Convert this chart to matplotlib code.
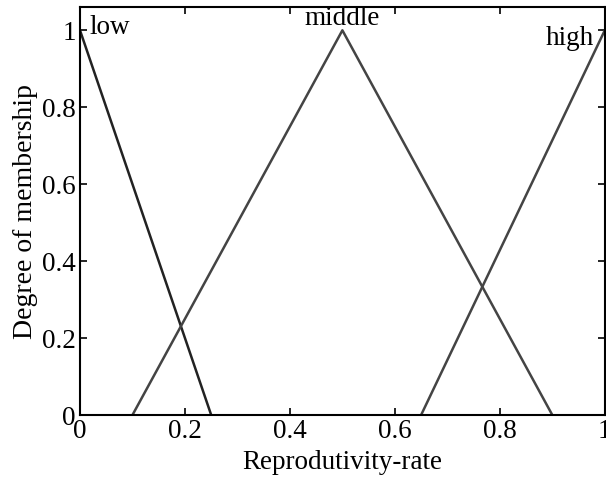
import numpy as np
import matplotlib.pyplot as plt

plt.rcParams['font.family'] = ['Liberation Serif', 'DejaVu Serif']

# membership functions (x breakpoints, y values)
low_x = [0, 0.25]
low_y = [1, 0]
mid_x = [0.1, 0.5, 0.9]
mid_y = [0, 1, 0]
high_x = [0.65, 1.0]
high_y = [0, 1]

xticks = [0, 0.2, 0.4, 0.6, 0.8, 1]
yticks = [0, 0.2, 0.4, 0.6, 0.8, 1]

fig = plt.figure(figsize=(6.06, 4.82), dpi=100)
ax = fig.add_axes([0.132, 0.139, 0.866, 0.846])

lc = '#444444'
ax.plot(low_x, low_y, color='#222222', lw=1.8)
ax.plot(mid_x, mid_y, color=lc, lw=1.8)
ax.plot(high_x, high_y, color=lc, lw=1.8)

ax.text(0.019, 1.008, 'low', fontsize=19.5, va='center', ha='left')
ax.text(0.50, 1.03, 'middle', fontsize=19.5, va='center', ha='center')
ax.text(0.888, 0.98, 'high', fontsize=19.5, va='center', ha='left')

ax.set_xlim(0, 1)
ax.set_ylim(0, 1.06)
ax.set_xticks(xticks)
ax.set_xticklabels(['0', '0.2', '0.4', '0.6', '0.8', '1'])
ax.set_yticks(yticks)
ax.set_yticklabels(['0', '0.2', '0.4', '0.6', '0.8', '1'])
ax.tick_params(direction='in', top=True, right=True, labelsize=19.5, length=5, width=1.2, pad=3)
for s in ax.spines.values():
    s.set_linewidth(1.5)
ax.set_xlabel('Reprodutivity-rate', fontsize=19.5, labelpad=4)
ax.set_ylabel('Degree of membership', fontsize=20, labelpad=3)

fig.savefig('out.png', dpi=100)
